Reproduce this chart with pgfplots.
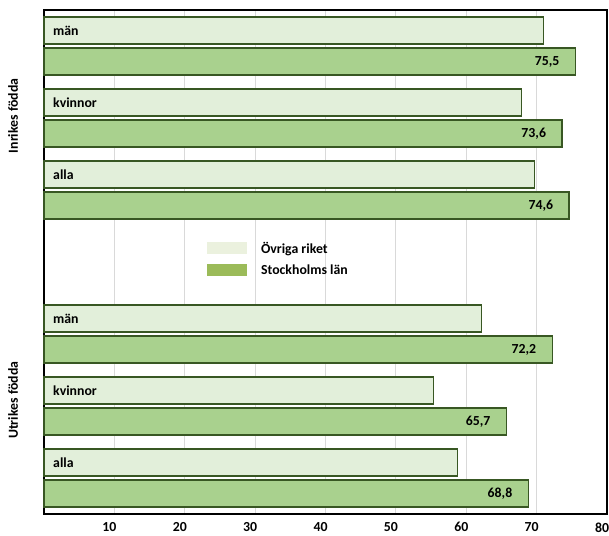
\documentclass[border=0pt]{standalone}
\usepackage{pgfplots}
\pgfplotsset{compat=1.18}
\usepackage{fontspec}
\setmainfont{Carlito}
\definecolor{lightfill}{RGB}{226,239,218}
\definecolor{greenfill}{RGB}{169,209,142}
\definecolor{barborder}{RGB}{56,87,35}
\definecolor{legLight}{RGB}{235,241,222}
\definecolor{legGreen}{RGB}{155,187,89}
\definecolor{gridc}{RGB}{217,217,217}
\newcommand{\lf}{\fontsize{13.8}{16}\selectfont\bfseries}
\begin{document}
\begin{tikzpicture}
\begin{axis}[
  scale only axis, width=563pt, height=504pt,
  at={(0,0)}, anchor=south west,
  xbar, bar shift=0pt, bar width=0.375,
  xmin=0, xmax=80, ymin=-0.5, ymax=6.5, y dir=reverse,
  xtick={10,20,...,80}, ytick=\empty,
  xmajorgrids, major grid style={gridc, line width=0.8pt},
  major tick length=0pt,
  axis line style={black, line width=1.3pt},
  /pgf/number format/assume math mode=true,
  xticklabel style={font=\lf, yshift=-5pt, xshift=-5pt},
  legend style={at={(0.284,0.548)}, anchor=north west, draw=none, fill=none,
    font=\lf, row sep=6pt},
  legend cell align=left,
  clip=false,
]
\addplot[forget plot, fill=lightfill, draw=barborder, line width=1.2pt] table {
x y
71.0 -0.215
67.8 0.785
69.7 1.785
62.2 3.785
55.4 4.785
58.7 5.785
};
\addplot[forget plot, fill=greenfill, draw=barborder, line width=1.2pt,
  nodes near coords, point meta=explicit symbolic,
  every node near coord/.append style={anchor=east, xshift=-12pt, font=\lf, text=black}]
  table[meta=lab] {
x y lab
75.5 0.215 75,5
73.6 1.215 73,6
74.6 2.215 74,6
72.2 4.215 72,2
65.7 5.215 65,7
68.8 6.215 68,8
};
\addlegendimage{legend image code/.code={\fill[legLight, draw=none] (0pt,-6pt) rectangle (40pt,6pt); \path[draw=none, fill=none] (0pt,-1pt) rectangle (52pt,1pt);}}
\addlegendentry{Övriga riket}
\addlegendimage{legend image code/.code={\fill[legGreen, draw=none] (0pt,-6pt) rectangle (40pt,6pt); \path[draw=none, fill=none] (0pt,-1pt) rectangle (52pt,1pt);}}
\addlegendentry{Stockholms län}
\node[anchor=west, font=\lf, xshift=9pt, inner sep=0pt] at (axis cs:0,-0.215) {män};
\node[anchor=west, font=\lf, xshift=9pt, inner sep=0pt] at (axis cs:0,0.785) {kvinnor};
\node[anchor=west, font=\lf, xshift=9pt, inner sep=0pt] at (axis cs:0,1.785) {alla};
\node[anchor=west, font=\lf, xshift=9pt, inner sep=0pt] at (axis cs:0,3.785) {män};
\node[anchor=west, font=\lf, xshift=9pt, inner sep=0pt] at (axis cs:0,4.785) {kvinnor};
\node[anchor=west, font=\lf, xshift=9pt, inner sep=0pt] at (axis cs:0,5.785) {alla};
\node[rotate=90, font=\lf] at ([xshift=-31pt]axis cs:0,0.97) {Inrikes födda};
\node[rotate=90, font=\lf] at ([xshift=-31pt]axis cs:0,4.92) {Utrikes födda};
\end{axis}
\pgfresetboundingbox
\path[use as bounding box] (-44pt,-21pt) rectangle (565pt,514pt);
\end{tikzpicture}
\end{document}
